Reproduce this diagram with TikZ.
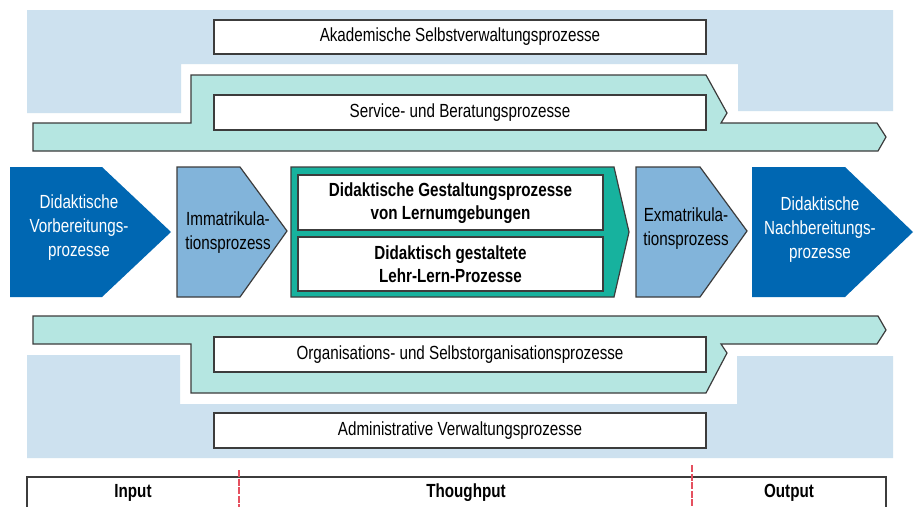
\documentclass[tikz,border=0pt]{standalone}
\usepackage{fontspec}
\setmainfont[FakeStretch=0.8]{Liberation Sans}
\definecolor{bgblue}{HTML}{CDE1EF}
\definecolor{bandteal}{HTML}{B5E6E1}
\definecolor{darkblue}{HTML}{0067B2}
\definecolor{midblue}{HTML}{82B4DA}
\definecolor{green}{HTML}{17B29E}
\definecolor{edge}{HTML}{3C3C3C}
\definecolor{reddash}{HTML}{E5505F}
\tikzset{
  outl/.style={draw=edge, line width=1.2pt},
  wbox/.style={outl, fill=white},
  lbl/.style={font=\fontsize{19}{24}\selectfont, align=center, inner sep=0pt},
  blbl/.style={font=\fontsize{19}{23}\selectfont\bfseries, align=center, inner sep=0pt},
  reddashed/.style={draw=reddash, line width=1.6pt, dash pattern=on 7pt off 1.6pt},
}
\begin{document}
\begin{tikzpicture}[x=1pt,y=-1pt]
\clip (0,0) rectangle (918,506);
\fill[white] (0,0) rectangle (918,506);
% light blue backgrounds
\fill[bgblue] (27,10) -- (893,10) -- (893,111) -- (738,111) -- (738,64) -- (181,64) -- (181,113) -- (27,113) -- cycle;
\fill[bgblue] (27,355) -- (180,355) -- (180,404) -- (737,404) -- (737,356) -- (893,356) -- (893,458) -- (27,458) -- cycle;
% teal bands
\draw[outl, fill=bandteal] (33,151) -- (33,123) -- (191,123) -- (191,75) -- (706,75) -- (727,113) -- (721,123) -- (877,123) -- (886,137) -- (878,151) -- cycle;
\draw[outl, fill=bandteal] (33,316) -- (878,316) -- (886,330) -- (877,344) -- (721,344) -- (727,353) -- (706,393) -- (191,393) -- (191,344) -- (33,344) -- cycle;
% white process boxes
\draw[wbox] (214,20) rectangle (706,54);
\node[lbl] (akad) at (460,37) {Akademische Selbstverwaltungsprozesse};
\draw[wbox] (214,95) rectangle (706,130);
\node[lbl] (serv) at (460,112.5) {Service- und Beratungsprozesse};
\draw[wbox] (214,337) rectangle (706,372);
\node[lbl] (orga) at (460,354.5) {Organisations- und Selbstorganisationsprozesse};
\draw[wbox] (214,413) rectangle (706,448);
\node[lbl] (admin) at (460,430.5) {Administrative Verwaltungsprozesse};
% chevrons
\fill[darkblue] (10,167) -- (102,167) -- (171,232) -- (102,297) -- (10,297) -- cycle;
\node[lbl, text=white] (vorb) at (79,228) {Didaktische\\Vorbereitungs-\\prozesse};
\draw[outl, fill=midblue] (177,167) -- (240,167) -- (287,231) -- (240,297) -- (177,297) -- cycle;
\node[lbl] (imma) at (228,233) {Immatrikula-\\tionsprozess};
\draw[outl, fill=green] (291,167) -- (614,167) -- (629,232) -- (614,297) -- (291,297) -- cycle;
\draw[wbox] (298,175) rectangle (603,230);
\node[blbl] (gest) at (450.5,203) {Didaktische Gestaltungsprozesse\\von Lernumgebungen};
\draw[wbox] (298,237) rectangle (603,291);
\node[blbl] (lehr) at (450.5,264) {Didaktisch gestaltete\\Lehr-Lern-Prozesse};
\draw[outl, fill=midblue] (636,167) -- (700,167) -- (747,231) -- (700,297) -- (636,297) -- cycle;
\node[lbl] (exma) at (686,229) {Exmatrikula-\\tionsprozess};
\fill[darkblue] (752,167) -- (845,167) -- (913,232) -- (845,297) -- (752,297) -- cycle;
\node[lbl, text=white] (nach) at (820,230) {Didaktische\\Nachbereitungs-\\prozesse};
% bottom table
\draw[outl] (27,520) -- (27,477) -- (886,477) -- (886,520);
\draw[reddashed] (239,470) -- (239,510);
\draw[reddashed] (692,465) -- (692,510);
\node[blbl] (inp) at (133,493) {Input};
\node[blbl] (thr) at (466,493) {Thoughput};
\node[blbl] (outp) at (789,493) {Output};
\end{tikzpicture}
\end{document}
